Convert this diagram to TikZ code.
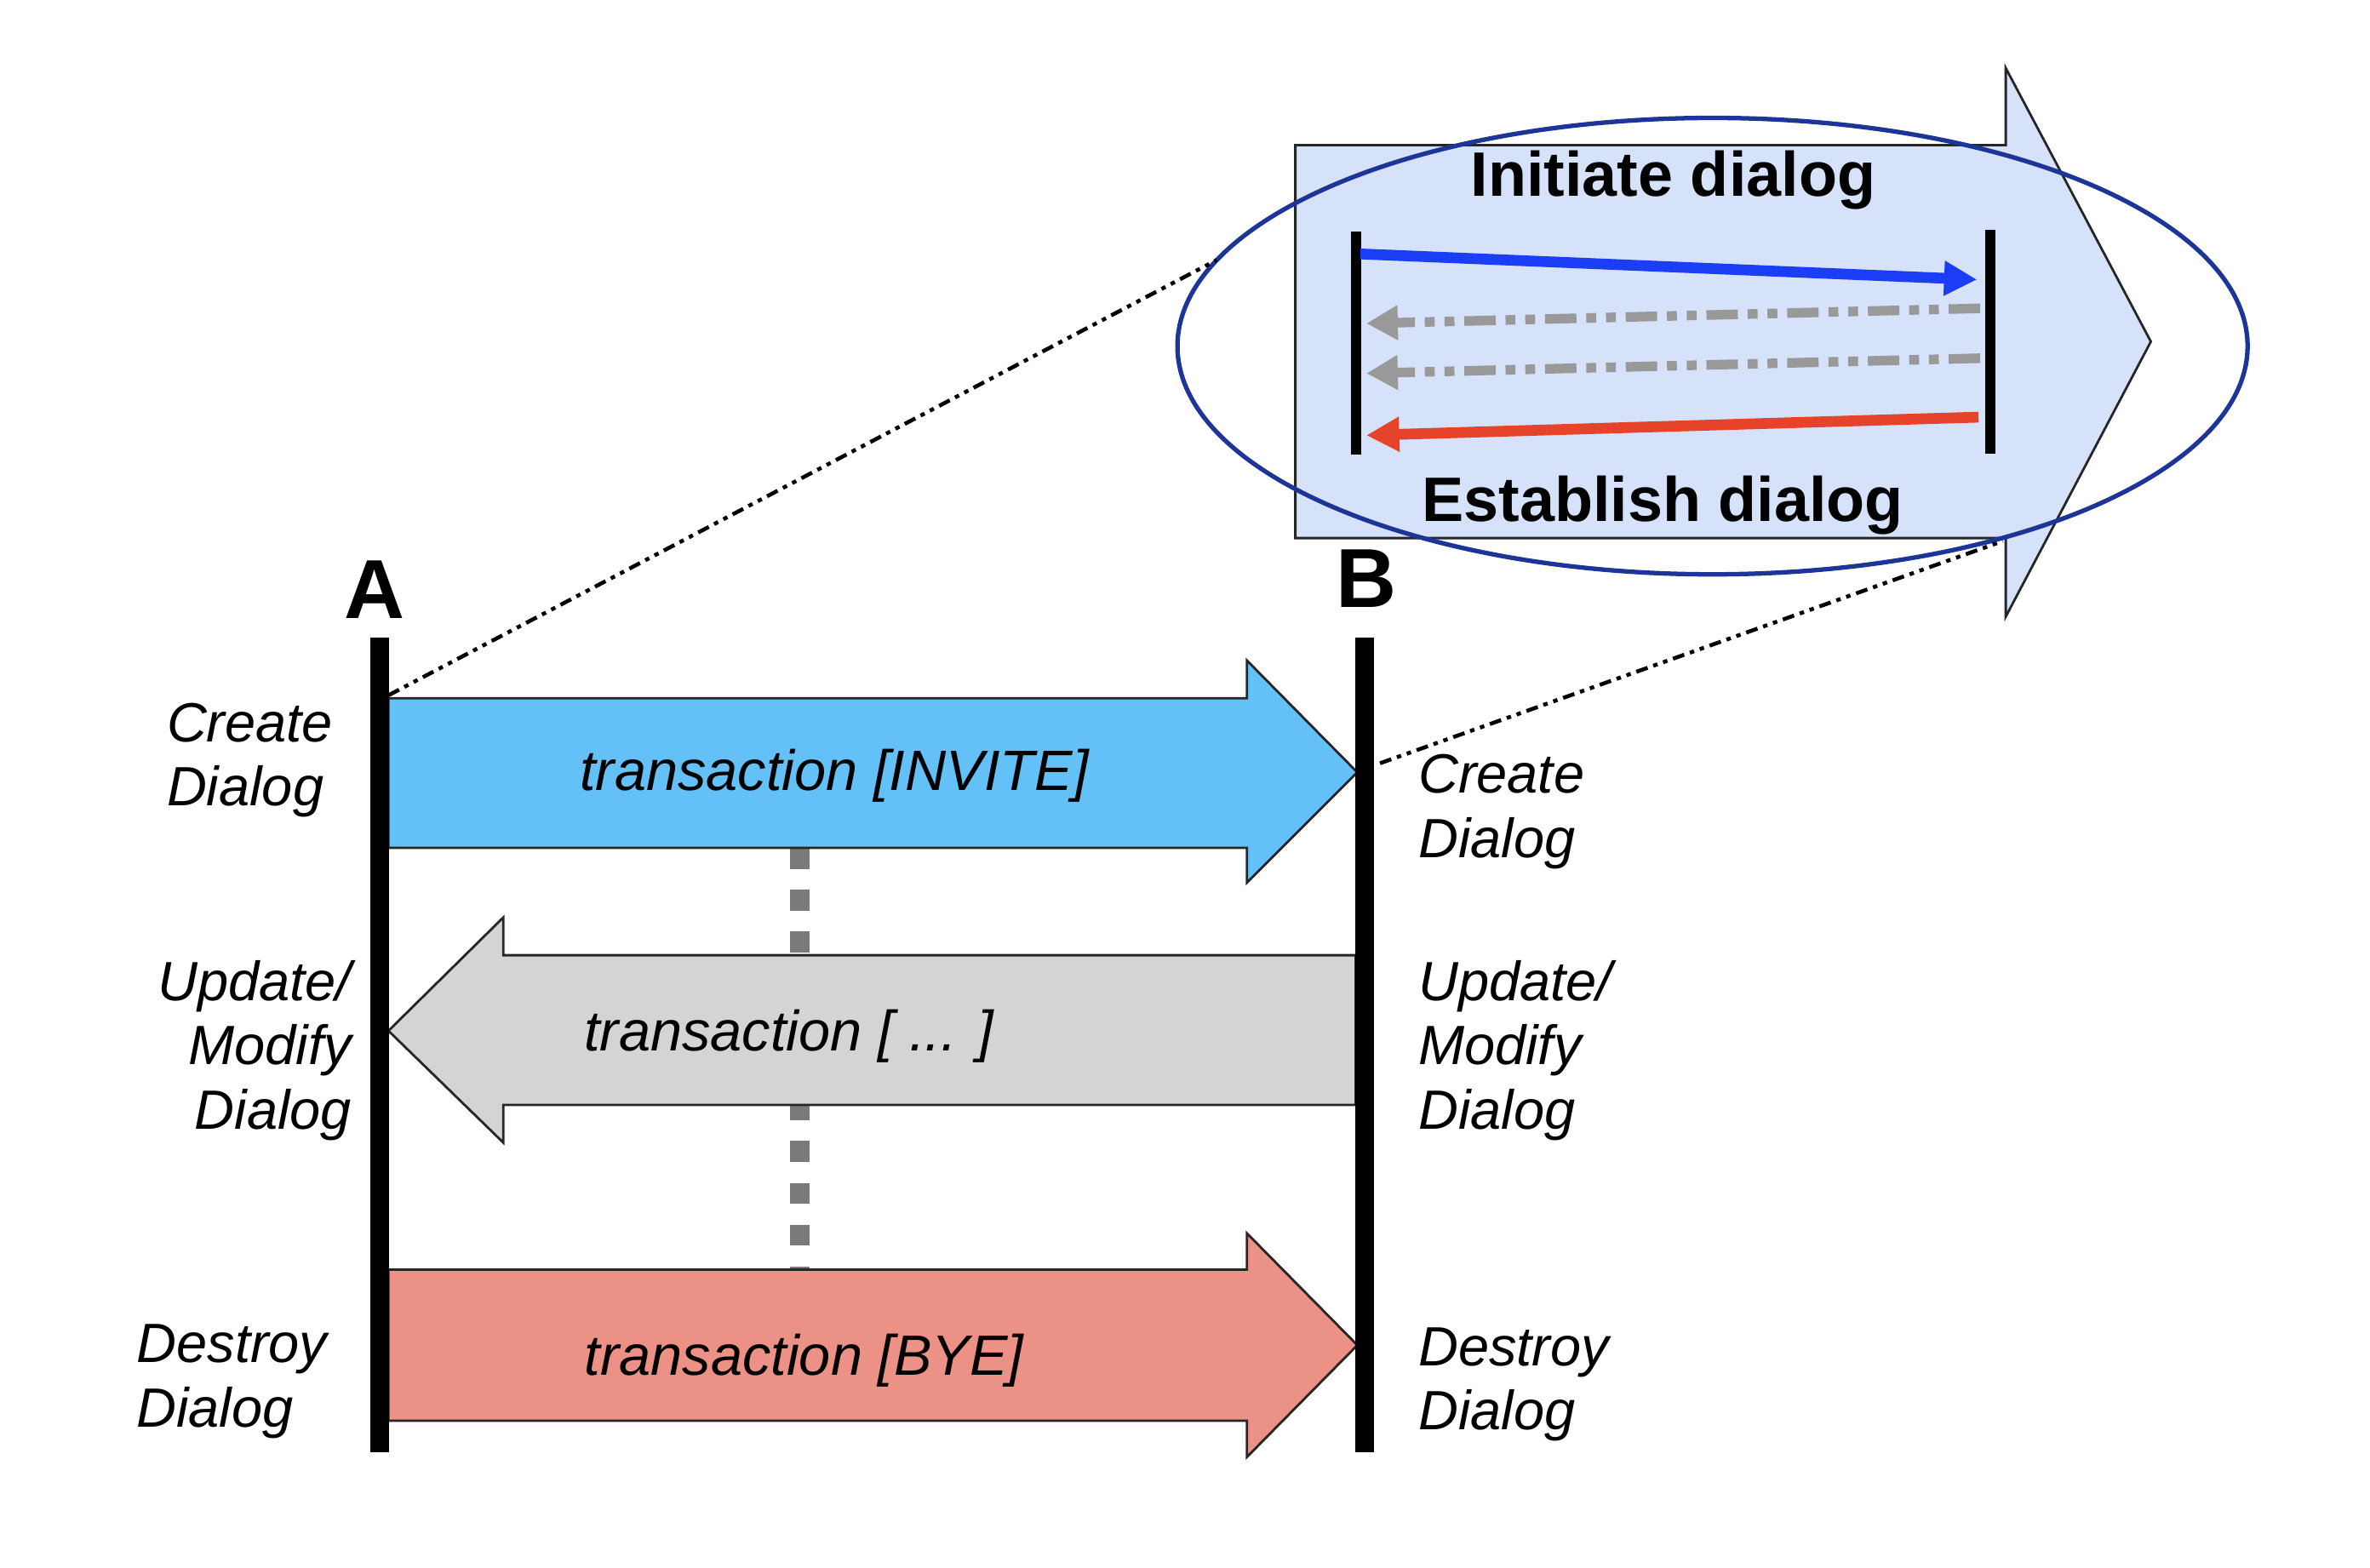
\documentclass[tikz,border=0pt]{standalone}
\usepackage{fontspec}
\setmainfont{Liberation Sans}
\usetikzlibrary{arrows.meta}
\definecolor{invitefill}{HTML}{63C1F8}
\definecolor{modifyfill}{HTML}{D4D4D4}
\definecolor{byefill}{HTML}{EC9186}
\definecolor{insetfill}{HTML}{D6E2FA}
\definecolor{ellblue}{HTML}{1C3596}
\definecolor{msgblue}{HTML}{1B3DF5}
\definecolor{msgred}{HTML}{E5432A}
\definecolor{msggray}{HTML}{999999}
\definecolor{sepgray}{HTML}{7A7A7A}
\begin{document}
\begin{tikzpicture}[x=0.017755cm,y=-0.017755cm,
  blockarrow/.style={draw=black!85, line width=0.8pt},
  lifeline/.style={line width=6.3pt},
  minilife/.style={line width=3.4pt},
  lbl/.style={font=\fontsize{18.5}{21.5}\selectfont\itshape, inner sep=0pt},
  trans/.style={font=\fontsize{19}{22}\selectfont\itshape, inner sep=0pt, anchor=base},
  party/.style={font=\fontsize{28}{28}\selectfont\bfseries, inner sep=0pt},
  boldlbl/.style={font=\fontsize{21}{24}\selectfont\bfseries, inner sep=0pt, anchor=base},
  zoomline/.style={line width=1.3pt, dash pattern=on 4pt off 2pt on 1.5pt off 2pt on 1.5pt off 2pt},
  sepline/.style={sepgray, line width=6.6pt, dash pattern=on 7pt off 7pt},
  solidmsg/.style={line width=3.6pt, -{Triangle[length=11pt,width=11pt]}},
  graymsg/.style={msggray, line width=3.2pt, dash pattern=on 10.5pt off 3.3pt on 3.3pt off 3.3pt on 3.3pt off 3.3pt, -{Triangle[length=10.5pt,width=11pt]}},
]
\useasboundingbox (0,0) rectangle (1568,1037);

% coordinates of the lifelines
\coordinate (Atop) at (251,422);
\coordinate (Abot) at (251,961);
\coordinate (Btop) at (903,422);
\coordinate (Bbot) at (903,961);

% separator between transactions
\coordinate (sepTop) at (529,561);
\coordinate (sepBot) at (529,840);
\draw[sepline] (sepTop) -- (sepBot);

% block arrows
\filldraw[blockarrow, fill=invitefill] (257,462) -- (825,462) -- (825,437) -- (898,511) -- (825,584) -- (825,561) -- (257,561) -- cycle;
\filldraw[blockarrow, fill=modifyfill] (897,632) -- (333,632) -- (333,607) -- (257,682) -- (333,756) -- (333,731) -- (897,731) -- cycle;
\filldraw[blockarrow, fill=byefill] (257,840) -- (825,840) -- (825,816) -- (898,890) -- (825,964) -- (825,940) -- (257,940) -- cycle;

\node[trans] (tInvite) at (552,523) {transaction [INVITE]};
\node[trans] (tModify) at (522,695) {transaction [ ... ]};
\node[trans] (tBye) at (532,910) {transaction [BYE]};

% lifelines
\draw[lifeline] (Atop) -- (Abot);
\draw[lifeline] (Btop) -- (Bbot);
\node[party] (labA) at (248,390) {A};
\node[party] (labB) at (904,383) {B};

% side labels
\node[lbl, align=left, anchor=west] (lCreate) at (110,503) {Create\\Dialog};
\node[lbl, align=right, anchor=east] (lModify) at (233,695) {Update/\\Modify\\Dialog};
\node[lbl, align=left, anchor=west] (lDestroy) at (90,914) {Destroy\\Dialog};
\node[lbl, align=left, anchor=west] (rCreate) at (938,537) {Create\\Dialog};
\node[lbl, align=left, anchor=west] (rModify) at (938,695) {Update/\\Modify\\Dialog};
\node[lbl, align=left, anchor=west] (rDestroy) at (938,916) {Destroy\\Dialog};

% inset
\filldraw[blockarrow, fill=insetfill] (857,96) -- (1327,96) -- (1327,45) -- (1423,226) -- (1327,408) -- (1327,356) -- (857,356) -- cycle;
\node[boldlbl] (initiate) at (1107,130) {Initiate dialog};
\node[boldlbl] (establish) at (1100,345) {Establish dialog};

\coordinate (mA1) at (897,153);
\coordinate (mA2) at (897,301);
\coordinate (mB1) at (1317,152);
\coordinate (mB2) at (1317,300);
\draw[minilife] (mA1) -- (mA2);
\draw[minilife] (mB1) -- (mB2);

\coordinate (m1s) at (900,168);
\coordinate (m1e) at (1308,185);
\coordinate (m2s) at (1310,204);
\coordinate (m2e) at (904,214);
\coordinate (m3s) at (1310,237);
\coordinate (m3e) at (904,247);
\coordinate (m4s) at (1309,276);
\coordinate (m4e) at (904,288);
\draw[solidmsg, msgblue] (m1s) -- (m1e);
\draw[graymsg] (m2s) -- (m2e);
\draw[graymsg] (m3s) -- (m3e);
\draw[solidmsg, msgred] (m4s) -- (m4e);

\coordinate (ellC) at (1133,229);
\draw[ellblue, line width=1.5pt] (ellC) ellipse [x radius=354, y radius=151];

% zoom lines
\coordinate (zA) at (257,460);
\coordinate (zAend) at (805,172);
\coordinate (zB) at (913,505);
\coordinate (zBend) at (1325,358);
\draw[zoomline] (zA) -- (zAend);
\draw[zoomline] (zB) -- (zBend);
\end{tikzpicture}
\end{document}
